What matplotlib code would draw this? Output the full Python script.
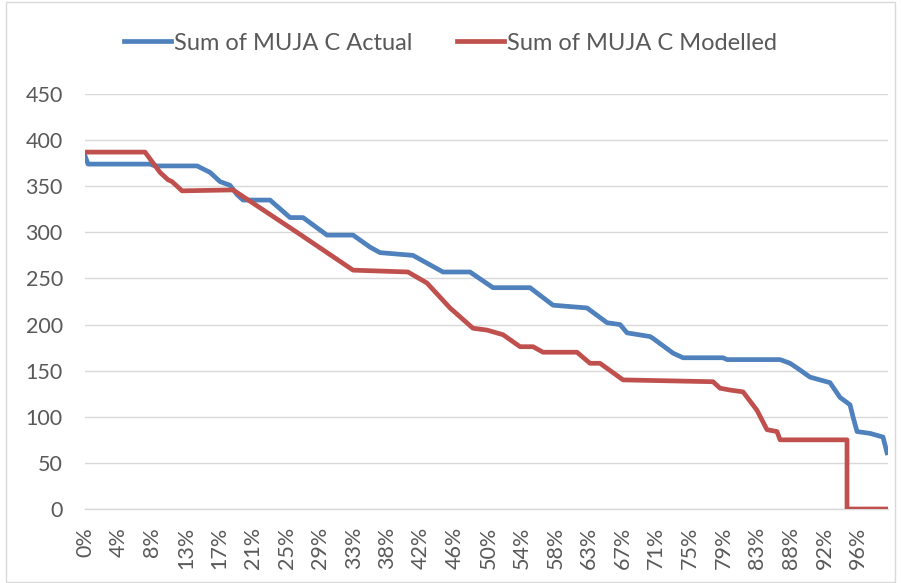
import matplotlib
matplotlib.use("Agg")
import matplotlib.pyplot as plt
from matplotlib.patches import Rectangle

# ---- data ----
tick_labels = ["0%", "4%", "8%", "13%", "17%", "21%", "25%", "29%", "33%", "38%", "42%", "46%",
               "50%", "54%", "58%", "63%", "67%", "71%", "75%", "79%", "83%", "88%", "92%", "96%"]

actual_pct = [0.0, 0.37, 8.06, 8.68, 13.89, 15.50, 16.74, 17.98, 18.84, 19.59, 22.94, 25.42,
              27.03, 30.00, 33.23, 35.33, 36.57, 40.66, 44.38, 47.73, 50.58, 55.17, 58.02,
              62.24, 64.72, 66.33, 67.20, 70.05, 70.42, 72.90, 74.14, 79.10, 79.59, 86.17,
              87.41, 88.27, 89.88, 92.36, 93.60, 94.84, 95.21, 95.71, 97.32, 98.93, 99.43]
actual_mw = [383, 374, 374, 372, 372, 365, 355, 351, 341, 335, 335, 316,
             316, 297, 297, 284, 278, 275, 257, 257, 240, 240, 221,
             218, 202, 200, 191, 187, 185, 169, 164, 164, 162, 162,
             158, 153, 143, 137, 121, 113, 100, 84, 82, 78, 61]

modelled_pct = [0.0, 7.44, 9.30, 10.29, 10.79, 12.03, 18.35, 26.28, 33.23, 40.04, 42.40,
                45.25, 48.10, 49.84, 51.82, 53.93, 55.54, 56.78, 60.99, 62.61, 63.85,
                66.70, 77.86, 78.72, 79.97, 81.58, 83.31, 84.55, 85.79, 86.17, 94.47,
                94.47, 99.55]
modelled_mw = [387, 387, 365, 357, 355, 345, 346, 300, 259, 257, 245,
               218, 196, 194, 189, 176, 176, 170, 170, 158, 158,
               140, 138, 131, 129, 127, 107, 86, 84, 75, 75,
               0, 0]

series_names = ["Sum of MUJA C Actual", "Sum of MUJA C Modelled"]
y_ticks = [0, 50, 100, 150, 200, 250, 300, 350, 400, 450]

# ---- style ----
plt.rcParams["font.family"] = ["Lato", "DejaVu Sans"]
text_color = "#595959"
blue = "#4F81BD"
red = "#C0504D"

fig = plt.figure(figsize=(9.01, 5.83), dpi=100)
ax = fig.add_axes([85 / 901, 1 - 509 / 583, (888 - 85) / 901, (509 - 94) / 583])

ax.plot([p / 100 for p in actual_pct], actual_mw, color=blue, lw=3.4,
        solid_joinstyle="round", label=series_names[0], zorder=3)
ax.plot([p / 100 for p in modelled_pct], modelled_mw, color=red, lw=3.4,
        solid_joinstyle="round", label=series_names[1], zorder=3)

ax.set_ylim(0, 450)
ax.set_xlim(0, 0.9955)
ax.set_yticks(y_ticks)
ax.set_yticklabels([str(v) for v in y_ticks])
ax.set_xticks([i / 24 for i in range(len(tick_labels))])
ax.set_xticklabels(tick_labels, rotation=90)
ax.grid(axis="y", color="#d9d9d9", lw=1.0)
ax.set_axisbelow(True)
for s in ["top", "right", "left"]:
    ax.spines[s].set_visible(False)
ax.spines["bottom"].set_color("#d9d9d9")
ax.spines["bottom"].set_linewidth(1.0)
ax.tick_params(axis="both", length=0, colors=text_color, labelsize=15.5)
ax.tick_params(axis="y", pad=16)
ax.tick_params(axis="x", pad=13)

fig.legend(loc="center", bbox_to_anchor=(0.5, 1 - 43 / 583), ncol=2, frameon=False,
           fontsize=17, labelcolor=text_color, handlelength=2.0, handletextpad=0.12,
           columnspacing=1.9)

fig.patches.append(Rectangle((6 / 901, 1 / 583), 1 - 12 / 901, 1 - 3 / 583,
                             transform=fig.transFigure, fill=False,
                             edgecolor="#d9d9d9", lw=1.0))

fig.savefig("out.png", dpi=100)
